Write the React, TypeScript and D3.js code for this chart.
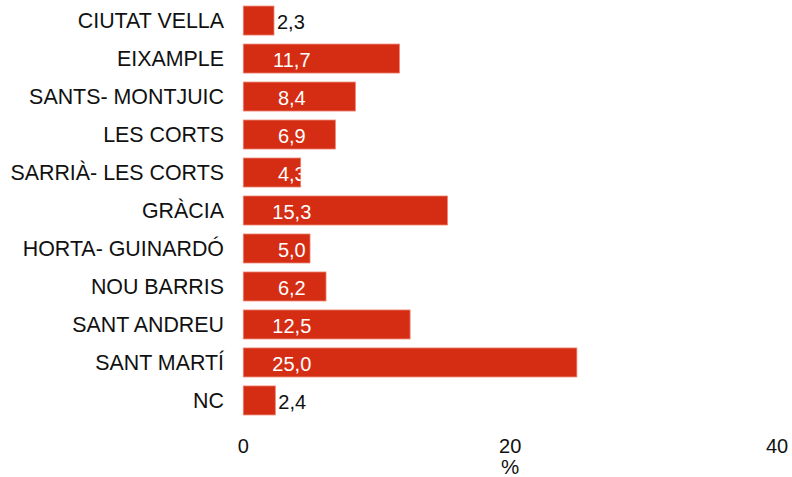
import React from "react";
import * as d3 from "d3";

const categories = [
  "CIUTAT VELLA",
  "EIXAMPLE",
  "SANTS- MONTJUIC",
  "LES CORTS",
  "SARRIÀ- LES CORTS",
  "GRÀCIA",
  "HORTA- GUINARDÓ",
  "NOU BARRIS",
  "SANT ANDREU",
  "SANT MARTÍ",
  "NC",
];
const values = [2.3, 11.7, 8.4, 6.9, 4.3, 15.3, 5.0, 6.2, 12.5, 25.0, 2.4];
const xTicks = [0, 20, 40];
const axisTitle = "%";

const W = 792;
const H = 477;
const FONT = "Liberation Sans, Arial, sans-serif";
const RED = "#d52d13";

export default function App() {
  const x = d3.scaleLinear().domain([0, 40]).range([243.3, 777]);
  const y = d3
    .scaleBand<string>()
    .domain(categories)
    .range([1.5, 419.5])
    .paddingInner(0.237)
    .paddingOuter(0.12);
  const fmt = (v: number) => d3.format(".1f")(v).replace(".", ",");
  const insideCenter = x(0) + 48.5;

  return (
    <div style={{ position: "absolute", left: 0, top: 0 }}>
      <svg width={W} height={H} style={{ display: "block", background: "#fff" }}>
        <defs>
          {categories.map((c, i) => (
            <clipPath id={`clip${i}`} key={c}>
              <rect x={x(0)} y={y(c)!} width={x(values[i]) - x(0)} height={y.bandwidth()} />
            </clipPath>
          ))}
        </defs>
        {categories.map((c, i) => {
          const v = values[i];
          const by = y(c)!;
          const cy = by + y.bandwidth() / 2;
          const outside = v < 3;
          return (
            <g key={c}>
              <text
                x={224}
                y={cy}
                dy="0.35em"
                textAnchor="end"
                fontFamily={FONT}
                fontSize={21.4}
                fill="#111"
              >
                {c}
              </text>
              <rect
                x={x(0)}
                y={by}
                width={x(v) - x(0)}
                height={y.bandwidth()}
                fill={RED}
                stroke="#ec8270"
                strokeWidth={0.8}
              />
              {outside ? (
                <text
                  x={x(v) + 3}
                  y={cy}
                  dy="0.42em"
                  fontFamily={FONT}
                  fontSize={20}
                  fill="#111"
                >
                  {fmt(v)}
                </text>
              ) : (
                <text
                  x={insideCenter}
                  y={cy}
                  dy="0.42em"
                  textAnchor="middle"
                  fontFamily={FONT}
                  fontSize={20}
                  fill="#fff"
                  clipPath={`url(#clip${i})`}
                >
                  {fmt(v)}
                </text>
              )}
            </g>
          );
        })}
        {xTicks.map((t) => (
          <text
            key={t}
            x={x(t)}
            y={453}
            textAnchor="middle"
            fontFamily={FONT}
            fontSize={20}
            fill="#111"
          >
            {t}
          </text>
        ))}
        <text x={x(20)} y={473.5} textAnchor="middle" fontFamily={FONT} fontSize={20.5} fill="#111">
          {axisTitle}
        </text>
      </svg>
    </div>
  );
}
